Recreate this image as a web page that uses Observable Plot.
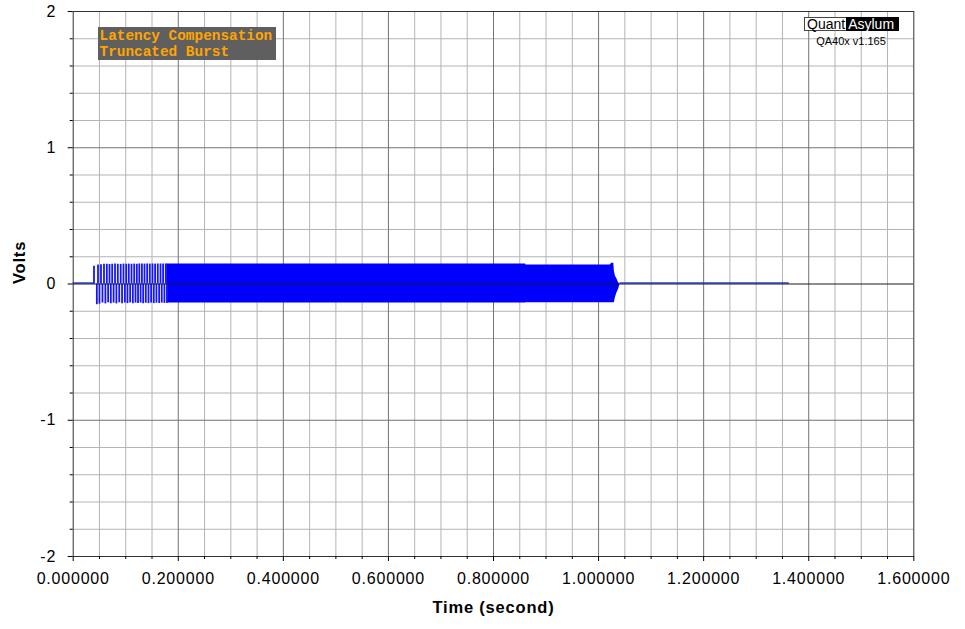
<!DOCTYPE html>
<html><head><meta charset="utf-8">
<script src="https://cdn.jsdelivr.net/npm/d3@7"></script>
<script src="https://cdn.jsdelivr.net/npm/@observablehq/plot@0.6"></script>
<style>
body{margin:0;background:#fff;}
#wrap{position:relative;width:965px;height:629px;overflow:hidden;background:#fff;}
#note{position:absolute;left:98px;top:27px;width:178px;height:33px;background:#5f5f5f;color:#ffa500;font:bold 14.4px "Liberation Mono",monospace;line-height:16px;padding:1px 0 0 1.5px;box-sizing:border-box;white-space:pre;}
#logo{position:absolute;left:804px;top:17px;height:14px;font:14px "Liberation Sans",Arial,sans-serif;display:flex;}
#logo .q{border:1px solid #444;border-right:none;padding:0 1px 0 2px;color:#000;background:#fff;height:12px;line-height:13px;}
#logo .a{background:#000;color:#fff;padding:0 5px 0 2px;height:14px;line-height:14px;}
#ver{position:absolute;left:800px;width:102px;top:35px;text-align:center;font:11px "Liberation Sans",Arial,sans-serif;color:#000;}
</style></head>
<body>
<div id="wrap"><div id="chart"></div>
<div id="note">Latency Compensation
Truncated Burst</div>
<div id="logo"><span class="q">Quant</span><span class="a">Asylum</span></div>
<div id="ver">QA40x v1.165</div>
</div>
<script>
// axis ticks
const xMajor = [0, 0.2, 0.4, 0.6, 0.8, 1.0, 1.2, 1.4, 1.6];
const xTickLabels = ["0.000000","0.200000","0.400000","0.600000","0.800000","1.000000","1.200000","1.400000","1.600000"];
const xMinor = [0.05,0.1,0.15,0.25,0.3,0.35,0.45,0.5,0.55,0.65,0.7,0.75,0.85,0.9,0.95,1.05,1.1,1.15,1.25,1.3,1.35,1.45,1.5,1.55];
const yMajor = [-2, -1, 0, 1, 2];
const yMinor = [-1.8,-1.6,-1.4,-1.2,-0.8,-0.6,-0.4,-0.2,0.2,0.4,0.6,0.8,1.2,1.4,1.6,1.8];

// signal: silent lead-in and tail (seconds, volts)
const leadTimes = [0, 0.0396];
const leadVolts = [0, 0];
const tailTimes = [1.041, 1.361];
const tailVolts = [0, 0];

// individually visible cycles at the start of the burst
const cycleTopTimes = [0.0396,0.0472,0.0529,0.0586,0.0640,0.0691,0.0742,0.0796,0.0849,0.0904,0.0957,0.1009,0.1058,0.1110,0.1161,0.1211,0.1258,0.1308,0.1357,0.1408,0.1458,0.1509,0.1559,0.1610,0.1662,0.1711,0.1762];
const cycleTopVolts = [0.130,0.140,0.142,0.145,0.145,0.143,0.145,0.146,0.145,0.144,0.146,0.145,0.146,0.145,0.146,0.145,0.147,0.146,0.146,0.147,0.146,0.147,0.146,0.147,0.147,0.146,0.147];
const cycleBottomTimes = [0.0450,0.0500,0.0557,0.0613,0.0665,0.0716,0.0769,0.0822,0.0876,0.0930,0.0983,0.1033,0.1084,0.1135,0.1186,0.1234,0.1283,0.1332,0.1382,0.1433,0.1483,0.1534,0.1584,0.1636,0.1686,0.1736,0.1787];
const cycleBottomVolts = [-0.152,-0.148,-0.140,-0.146,-0.138,-0.145,-0.140,-0.146,-0.138,-0.145,-0.140,-0.144,-0.139,-0.145,-0.140,-0.144,-0.140,-0.145,-0.141,-0.144,-0.140,-0.144,-0.141,-0.143,-0.140,-0.143,-0.141];

// envelope of the dense part of the burst
const envTimes = [0.178, 0.861, 0.862, 1.022, 1.025, 1.029, 1.030, 1.032, 1.035, 1.038, 1.041];
const envUpper = [0.147, 0.147, 0.139, 0.139, 0.152, 0.152, 0.096, 0.059, 0.037, 0.010, 0.0];
const envLower = [-0.140, -0.140, -0.137, -0.137, -0.137, -0.137, -0.137, -0.100, -0.064, -0.040, -0.0];

const lead = leadTimes.map((t, i) => ({t, v: leadVolts[i]}));
const tail = tailTimes.map((t, i) => ({t, v: tailVolts[i]}));
const tops = cycleTopTimes.map((t, i) => ({t, v: cycleTopVolts[i]}));
const bottoms = cycleBottomTimes.map((t, i) => ({t, v: cycleBottomVolts[i]}));
const env = envTimes.map((t, i) => ({t, hi: envUpper[i], lo: envLower[i]}));

const blue = "#0000ff";
const chart = Plot.plot({
  width: 965, height: 629,
  marginLeft: 72.7, marginRight: 51.7, marginTop: 11, marginBottom: 73,
  style: {fontFamily: "'Liberation Sans', Arial, sans-serif", fontSize: "16px", letterSpacing: "0.8px", background: "#fff", color: "#000"},
  x: {domain: [0, 1.6], label: null},
  y: {domain: [-2, 2], label: null},
  marks: [
    Plot.ruleX(xMinor, {stroke: "#b4b4b4"}),
    Plot.ruleY(yMinor, {stroke: "#b4b4b4"}),
    Plot.ruleX(xMajor.slice(1, -1), {stroke: "#737373"}),
    Plot.ruleY([-1, 1], {stroke: "#737373"}),
    Plot.areaY(env, {x: "t", y1: "lo", y2: "hi", fill: blue}),
    Plot.ruleX(tops, {x: "t", y1: 0, y2: "v", stroke: "#1414ff", strokeWidth: 1.8}),
    Plot.ruleX(bottoms, {x: "t", y1: 0, y2: "v", stroke: "#1414ff", strokeWidth: 1.8}),
    Plot.line(lead, {x: "t", y: "v", stroke: "#2b3ce6", dy: -1}),
    Plot.line(tail, {x: "t", y: "v", stroke: "#2b3ce6", dy: -1}),
    Plot.ruleY([0], {stroke: "#1a1a1a"}),
    Plot.frame({stroke: "#333"}),
    Plot.axisX({ticks: xMinor, tickSize: 3, tickFormat: () => ""}),
    Plot.axisX({ticks: xMajor, tickSize: 5, tickPadding: 11, tickFormat: d => xTickLabels[xMajor.indexOf(d)]}),
    Plot.axisY({ticks: yMinor, tickSize: 3, tickFormat: () => ""}),
    Plot.axisY({ticks: yMajor, tickSize: 5, tickPadding: 12, tickFormat: d => String(d)}),
    Plot.text(["Time (second)"], {frameAnchor: "bottom", dy: 56, fontWeight: "bold", fontSize: 16.5, letterSpacing: "1.2px"}),
    Plot.text(["Volts"], {frameAnchor: "left", dx: -53, rotate: -90, fontWeight: "bold", fontSize: 16.5})
  ]
});
document.getElementById("chart").appendChild(chart);
</script>
</body></html>
